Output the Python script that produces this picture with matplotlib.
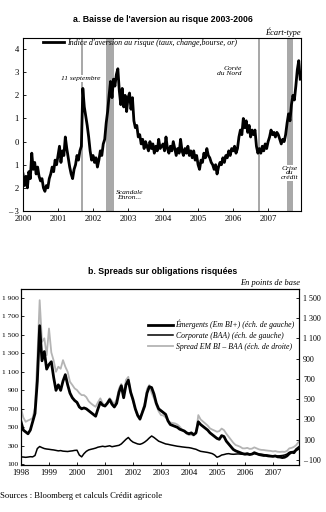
import numpy as np
import matplotlib
matplotlib.use("Agg")
import matplotlib.pyplot as plt
from matplotlib.ticker import FixedLocator, FuncFormatter

plt.rcParams["font.family"] = "Liberation Serif"

# --- a. risk aversion index, half-monthly points from Jan 2000
aversion_start = 2000.0
aversion_step = 1 / 24
aversion = [
    -1.4, -1.9, -1.5, -2.0, -1.3, -1.6, -0.5, -1.2, -0.9, -1.4, -1.1, -1.5,
    -1.7, -1.6, -2.0, -2.15, -1.9, -2.0, -1.6, -1.4, -1.1, -1.3, -0.8, -1.0,
    -0.6, -0.2, -0.9, -0.4, -0.6, 0.2, -0.3, -0.7, -1.1, -1.4, -1.6, -1.2,
    -1.0, -0.6, -0.8, -0.4, -0.2, 2.3, 1.5, 1.1, 0.7, 0.2, -0.4, -0.8,
    -0.6, -0.9, -0.7, -1.1, -0.8, -0.4, -0.6, -0.1, 0.1, 0.8, 1.3, 2.0,
    2.6, 1.9, 2.7, 2.4, 2.9, 3.15, 2.2, 1.6, 2.3, 1.5, 2.0, 1.3,
    1.9, 2.1, 1.4, 1.9, 0.9, 0.6, 0.7, 0.2, 0.3, -0.1, 0.1, -0.3,
    0.0, -0.2, -0.4, 0.0, -0.3, -0.1, -0.5, -0.2, -0.4, 0.1, -0.3, -0.2,
    -0.1, -0.4, 0.2, -0.3, -0.5, -0.2, -0.4, 0.0, -0.3, -0.6, -0.3, -0.5,
    0.1, -0.4, -0.6, -0.3, -0.5, -0.2, -0.6, -0.4, -0.7, -0.4, -0.8, -0.6,
    -1.0, -1.2, -0.8, -0.9, -0.5, -0.7, -0.3, -0.6, -0.7, -0.9, -1.0, -1.2,
    -1.0, -1.4, -1.1, -0.9, -1.0, -0.7, -0.9, -0.6, -0.7, -0.4, -0.6, -0.3,
    -0.4, -0.2, -0.5, -0.3, 0.2, 0.5, 0.3, 1.0, 0.6, 0.9, 0.4, 0.7,
    0.2, 0.5, 0.3, 0.5, -0.2, -0.5, -0.3, -0.5, -0.2, -0.4, -0.1, -0.3,
    0.0, 0.2, 0.5, 0.3, 0.4, 0.2, 0.4, 0.3, 0.1, -0.1, 0.1, 0.0,
    0.3, 0.8, 1.2, 0.9, 1.6, 2.0, 1.8, 2.4, 3.1, 3.5, 2.7,
]
# shaded events (start, end) in years
events = [(2001.66, 2001.72), (2002.38, 2002.60), (2006.70, 2006.78), (2007.54, 2007.70)]
years_a = [2000, 2001, 2002, 2003, 2004, 2005, 2006, 2007]

# --- b. bond spreads, monthly points from Jan 1998
spread_start = 1998.0
spread_step = 1 / 12
embi = [
    560, 470, 450, 430, 470, 560, 650, 1000, 1600, 1220, 1320, 1130,
    1180, 1210, 1040, 900, 960, 900, 1000, 1070, 960, 870, 820, 790,
    770, 720, 700, 710, 700, 680, 660, 640, 620, 700, 770, 740,
    730, 760, 800, 750, 720, 760, 880, 950, 820, 960, 1010, 880,
    800, 700, 630, 590, 660, 730, 870, 940, 930, 860, 760, 700,
    680, 660, 640, 570, 530, 520, 510, 500, 480, 470, 460, 440,
    430, 440, 420, 440, 560, 530, 510, 490, 470, 440, 420, 400,
    380, 370, 410, 400, 350, 320, 290, 260, 245, 235, 225, 215,
    210, 215, 205, 210, 225, 215, 205, 200, 195, 195, 190, 188,
    185, 190, 180, 178, 172, 176, 190, 215, 230, 225, 260, 280,
]
baa = [
    180, 178, 175, 178, 182, 180, 195, 270, 292, 280, 270, 265,
    262, 258, 255, 250, 245, 248, 242, 240, 238, 242, 245, 250,
    252, 200, 180, 215, 240, 255, 262, 268, 275, 285, 290, 295,
    290, 295, 300, 290, 295, 300, 305, 320, 345, 370, 390, 360,
    340, 330, 320, 316, 325, 340, 360, 385, 406, 390, 370, 350,
    340, 330, 320, 316, 310, 305, 300, 295, 292, 288, 285, 282,
    280, 275, 268, 262, 250, 240, 236, 232, 228, 222, 215, 200,
    176, 185, 200, 205, 212, 215, 210, 208, 210, 212, 210, 208,
    206, 205, 208, 210, 215, 212, 210, 208, 205, 200, 196, 192,
    190, 188, 190, 192, 195, 200, 210, 230, 235, 240, 250, 262,
]
embi_baa = [
    409, 320, 277, 290, 300, 314, 420, 900, 1476, 1065, 1100, 934,
    1197, 960, 880, 770, 820, 800, 885, 820, 770, 671, 640, 606,
    590, 560, 540, 540, 520, 480, 458, 440, 425, 470, 508, 460,
    441, 470, 510, 480, 450, 500, 606, 650, 560, 690, 720, 560,
    480, 400, 330, 294, 380, 460, 600, 639, 560, 508, 440, 380,
    343, 340, 320, 290, 270, 265, 261, 250, 230, 200, 180, 160,
    146, 150, 140, 160, 343, 300, 280, 260, 240, 212, 200, 190,
    179, 185, 210, 195, 160, 130, 100, 70, 48, 40, 30, 15,
    15, 20, 10, 12, 25, 15, 5, 0, -1, -5, -8, -10,
    -15, -12, -18, -20, -18, -20, -10, 15, 20, 30, 48, 80,
]
years_b = list(range(1998, 2008))
left_ticks = [100, 300, 500, 700, 900, 1100, 1300, 1500, 1700, 1900]
right_ticks = [-100, 100, 300, 500, 700, 900, 1100, 1300, 1500]

GREY = "#a9a9a9"
TICK_FS = 6.2
NOTE_FS = 5.4
TITLE_FS = 6.3


def pts(value):
    v = int(value)
    s = f"{abs(v):,}".replace(",", " ")
    return ("\u2013 " + s) if v < 0 else s


def style_axis(ax, size=TICK_FS):
    for sp in ax.spines.values():
        sp.set_linewidth(0.8)
    ax.tick_params(direction="in", length=2.5, width=0.6, labelsize=size, pad=3)


fig = plt.figure(figsize=(3.26, 5.12), dpi=100)

# ---------------- panel a
ax1 = fig.add_axes([0.0706, 0.5879, 0.8528, 0.3379])
t_a = aversion_start + aversion_step * np.arange(len(aversion))
for x0, x1 in events:
    ax1.axvspan(x0, x1, color=GREY, lw=0, zorder=1)
ax1.plot(t_a, aversion, color="black", lw=2.0, zorder=3,
         label="Indice d'aversion au risque (taux, change,bourse, or)")
ax1.set_xlim(2000.0, 2007.94)
ax1.set_ylim(-3, 4.48)
ax1.set_xticks(years_a)
ax1.set_xticklabels([str(y) for y in years_a])
ax1.set_yticks(range(-3, 5))
ax1.set_yticklabels(["\u2013 3", "2", "1", "0", "1", "2", "3", "4"])
style_axis(ax1)
ax1.legend(loc="upper left", bbox_to_anchor=(0.045, 1.035), frameon=False,
           handlelength=2.6, handletextpad=0.4,
           prop={"family": "Liberation Serif", "style": "italic", "size": NOTE_FS + 0.4})

note = dict(fontsize=NOTE_FS, style="italic", zorder=4,
            bbox=dict(facecolor="white", edgecolor="none", pad=0.6))
ax1.text(2001.66, 2.74, "11 septembre", ha="center", va="center", **note)
ax1.text(2006.24, 3.04, "Corée\ndu Nord", ha="right", va="center",
         multialignment="right", linespacing=0.95, **note)
ax1.text(2003.04, -2.3, "Scandale\nEnron...", ha="center", va="center",
         linespacing=0.95, **note)
ax1.text(2007.62, -1.35, "Crise\ndu\ncrédit", ha="center", va="center",
         linespacing=0.95, **note)

fig.text(0.5, 1 - 20 / 512, "a. Baisse de l'aversion au risque 2003-2006",
         ha="center", va="center", family="Liberation Sans", weight="bold", fontsize=TITLE_FS)
fig.text(0.923, 1 - 32 / 512, "Écart-type", ha="right", va="center",
         style="italic", fontsize=NOTE_FS + 0.6)

# ---------------- panel b
ax2 = fig.add_axes([0.0644, 0.0918, 0.8528, 0.3437])
ax3 = ax2.twinx()
t_b = spread_start + spread_step * np.arange(len(embi))
l3, = ax3.plot(t_b, embi_baa, color="#b4b4b4", lw=1.3, zorder=2,
               label="Spread EM BI \u2013 BAA (éch. de droite)")
l1, = ax2.plot(t_b, embi, color="black", lw=2.0, zorder=3,
               label="Émergents (Em BI+) (éch. de gauche)")
l2, = ax2.plot(t_b, baa, color="black", lw=1.1, zorder=3,
               label="Corporate (BAA) (éch. de gauche)")
ax2.set_zorder(ax3.get_zorder() + 1)
ax2.patch.set_visible(False)

ax2.set_xlim(1998.0, 2007.93)
ax2.set_ylim(92, 1997)
ax3.set_ylim(-149, 1586)
ax2.set_xticks(years_b)
ax2.set_xticklabels([str(y) for y in years_b])
ax2.yaxis.set_major_locator(FixedLocator(left_ticks))
ax2.yaxis.set_major_formatter(FuncFormatter(lambda v, p: pts(v)))
ax3.yaxis.set_major_locator(FixedLocator(right_ticks))
ax3.yaxis.set_major_formatter(FuncFormatter(lambda v, p: pts(v)))
style_axis(ax2)
style_axis(ax3, size=5.8)
ax2.tick_params(axis="y", labelsize=5.4, pad=1.5)

ax2.legend(handles=[l1, l2, l3], loc="upper right", bbox_to_anchor=(1.01, 0.865),
           frameon=False, handlelength=3.2, handletextpad=0.3, labelspacing=0.35,
           prop={"family": "Liberation Serif", "style": "italic", "size": NOTE_FS + 0.2})

fig.text(0.5, 1 - 272 / 512, "b. Spreads sur obligations risquées",
         ha="center", va="center", family="Liberation Sans", weight="bold", fontsize=TITLE_FS)
fig.text(0.92, 1 - 283 / 512, "En points de base", ha="right", va="center",
         style="italic", fontsize=NOTE_FS + 0.6)
fig.text(0.0, 1 - 496 / 512, "Sources : Bloomberg et calculs Crédit agricole",
         ha="left", va="center", fontsize=NOTE_FS + 0.8)

fig.savefig("out.png", dpi=100, facecolor="white")
